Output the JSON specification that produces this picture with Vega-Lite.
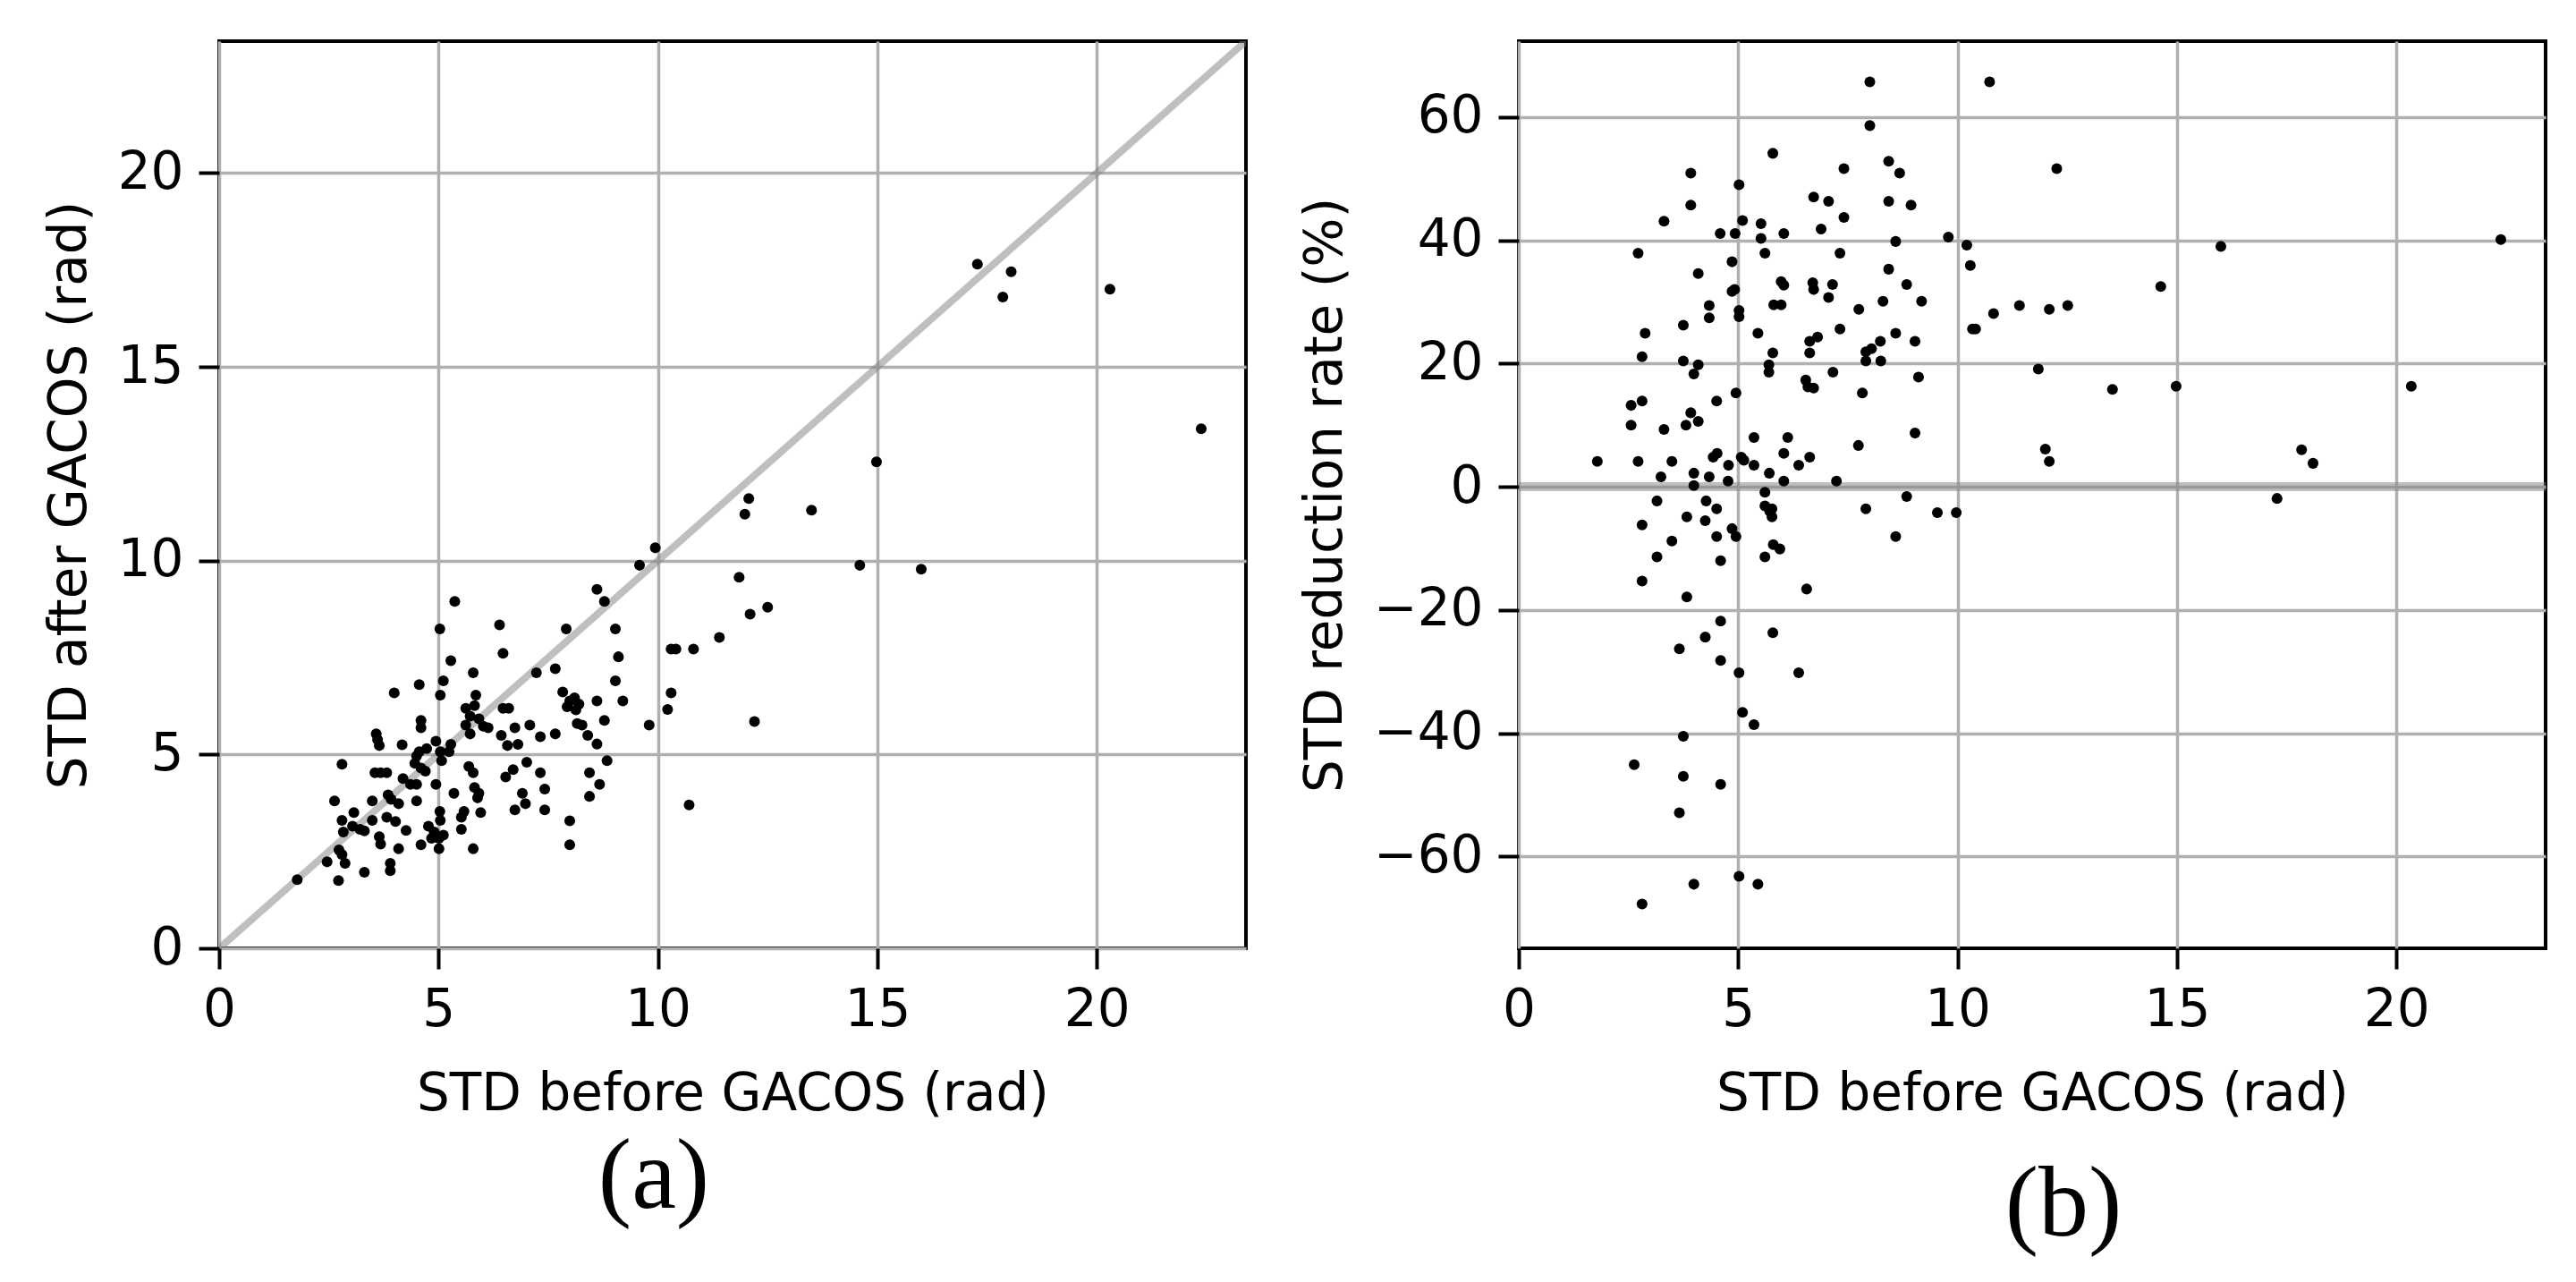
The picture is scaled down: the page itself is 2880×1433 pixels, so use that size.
{
  "$schema": "https://vega.github.io/schema/vega-lite/v6.json",
  "background": "white",
  "padding": {"left": 47, "top": 44, "right": 10, "bottom": 10},
  "bounds": "flush",
  "spacing": 305,
  "config": {
    "view": {"stroke": "black", "strokeWidth": 4},
    "axis": {
      "labelFont": "DejaVu Sans", "labelFontSize": 58, "labelColor": "black",
      "titleFont": "DejaVu Sans", "titleFontSize": 58, "titleFontWeight": "normal", "titleColor": "black",
      "tickColor": "black", "tickWidth": 4, "tickSize": 23,
      "domain": false,
      "gridColor": "#b0b0b0", "gridWidth": 3.5, "gridOpacity": 1,
      "labelPadding": 17, "labelFlush": false, "labelOverlap": false
    },
    "axisX": {"titlePadding": 36},
    "axisY": {"titlePadding": 24}
  },
  "datasets": {
    "diag": [{"d": 0}, {"d": 23.4}],
    "zero": [{"z": 0}],
    "a": [
      {"before": 1.78, "after": 1.77}, {"before": 2.72, "after": 1.75}, {"before": 2.46, "after": 2.23}, {"before": 2.73, "after": 2.54},
      {"before": 2.87, "after": 2.19}, {"before": 2.80, "after": 2.42}, {"before": 3.31, "after": 1.96}, {"before": 3.90, "after": 2.19},
      {"before": 3.90, "after": 2.00}, {"before": 2.63, "after": 3.80}, {"before": 2.80, "after": 4.75}, {"before": 2.80, "after": 3.30},
      {"before": 2.83, "after": 3.00}, {"before": 3.07, "after": 3.50}, {"before": 3.04, "after": 3.15}, {"before": 3.31, "after": 3.03},
      {"before": 3.49, "after": 3.80}, {"before": 3.49, "after": 3.30}, {"before": 3.65, "after": 2.88}, {"before": 3.68, "after": 2.69},
      {"before": 4.09, "after": 2.57}, {"before": 3.55, "after": 4.53}, {"before": 3.82, "after": 4.53}, {"before": 3.58, "after": 5.53},
      {"before": 3.65, "after": 5.23}, {"before": 3.99, "after": 6.59}, {"before": 4.17, "after": 5.25}, {"before": 3.85, "after": 3.96},
      {"before": 3.92, "after": 3.84}, {"before": 4.09, "after": 3.73}, {"before": 3.82, "after": 3.38}, {"before": 4.02, "after": 3.27},
      {"before": 4.26, "after": 3.04}, {"before": 4.19, "after": 4.38}, {"before": 4.36, "after": 4.23}, {"before": 4.50, "after": 3.80},
      {"before": 4.50, "after": 4.96}, {"before": 4.60, "after": 4.65}, {"before": 4.56, "after": 6.80}, {"before": 4.60, "after": 5.88},
      {"before": 4.60, "after": 5.69}, {"before": 4.56, "after": 5.07}, {"before": 4.70, "after": 4.57}, {"before": 4.60, "after": 2.67},
      {"before": 4.77, "after": 3.15}, {"before": 4.90, "after": 3.00}, {"before": 4.94, "after": 4.23}, {"before": 4.94, "after": 5.34},
      {"before": 5.04, "after": 6.53}, {"before": 5.03, "after": 8.24}, {"before": 5.11, "after": 6.90}, {"before": 5.28, "after": 7.42},
      {"before": 5.37, "after": 8.95}, {"before": 5.04, "after": 5.07}, {"before": 5.07, "after": 4.84}, {"before": 5.24, "after": 5.07},
      {"before": 5.03, "after": 3.53}, {"before": 5.01, "after": 2.84}, {"before": 5.01, "after": 2.57}, {"before": 5.11, "after": 2.92},
      {"before": 5.35, "after": 4.00}, {"before": 5.52, "after": 3.38}, {"before": 5.58, "after": 3.53}, {"before": 5.52, "after": 3.07},
      {"before": 5.79, "after": 2.57}, {"before": 5.96, "after": 3.50}, {"before": 5.69, "after": 4.69}, {"before": 5.79, "after": 4.53},
      {"before": 5.82, "after": 4.15}, {"before": 5.92, "after": 4.00}, {"before": 5.79, "after": 7.11}, {"before": 5.62, "after": 6.19},
      {"before": 5.85, "after": 6.53}, {"before": 5.72, "after": 5.99}, {"before": 5.62, "after": 5.76}, {"before": 5.72, "after": 5.53},
      {"before": 5.92, "after": 5.92}, {"before": 6.13, "after": 5.69}, {"before": 6.47, "after": 7.61}, {"before": 6.39, "after": 8.34},
      {"before": 6.47, "after": 6.19}, {"before": 6.60, "after": 6.19}, {"before": 6.43, "after": 5.49}, {"before": 6.57, "after": 5.23},
      {"before": 6.74, "after": 5.69}, {"before": 6.81, "after": 5.26}, {"before": 6.53, "after": 4.42}, {"before": 6.70, "after": 4.61},
      {"before": 7.01, "after": 4.80}, {"before": 7.32, "after": 4.53}, {"before": 7.08, "after": 5.76}, {"before": 7.32, "after": 5.46},
      {"before": 7.66, "after": 5.53}, {"before": 6.91, "after": 4.00}, {"before": 6.74, "after": 3.57}, {"before": 6.98, "after": 3.73},
      {"before": 7.42, "after": 4.11}, {"before": 7.42, "after": 3.57}, {"before": 7.99, "after": 3.29}, {"before": 7.99, "after": 2.67},
      {"before": 7.23, "after": 7.11}, {"before": 7.66, "after": 7.21}, {"before": 7.91, "after": 8.24}, {"before": 8.61, "after": 9.26},
      {"before": 8.78, "after": 8.95}, {"before": 9.03, "after": 8.24}, {"before": 9.10, "after": 7.52}, {"before": 9.03, "after": 6.90},
      {"before": 9.20, "after": 6.38}, {"before": 7.83, "after": 6.61}, {"before": 7.93, "after": 6.23}, {"before": 8.10, "after": 6.46},
      {"before": 8.20, "after": 6.30}, {"before": 8.13, "after": 6.15}, {"before": 8.16, "after": 5.80}, {"before": 8.61, "after": 6.38},
      {"before": 8.78, "after": 5.88}, {"before": 8.40, "after": 5.49}, {"before": 8.61, "after": 5.27}, {"before": 8.84, "after": 4.84},
      {"before": 8.44, "after": 4.53}, {"before": 8.67, "after": 4.23}, {"before": 8.44, "after": 3.92}, {"before": 9.80, "after": 5.76},
      {"before": 10.30, "after": 7.72}, {"before": 10.41, "after": 7.72}, {"before": 10.81, "after": 7.72}, {"before": 10.30, "after": 6.59},
      {"before": 10.22, "after": 6.16}, {"before": 10.71, "after": 3.70}, {"before": 11.40, "after": 8.02},
      {"before": 3.61, "after": 5.38}, {"before": 4.73, "after": 5.15}, {"before": 4.46, "after": 4.77}, {"before": 5.28, "after": 5.26},
      {"before": 3.68, "after": 4.53}, {"before": 4.50, "after": 4.23}, {"before": 3.21, "after": 3.07}, {"before": 5.04, "after": 3.30},
      {"before": 4.84, "after": 2.84}, {"before": 5.89, "after": 3.88}, {"before": 6.02, "after": 5.73}, {"before": 5.82, "after": 6.26},
      {"before": 7.99, "after": 6.38}, {"before": 8.27, "after": 5.76},
      {"before": 22.38, "after": 13.4}, {"before": 20.3, "after": 17.0}, {"before": 17.28, "after": 17.65}, {"before": 17.86, "after": 16.8},
      {"before": 18.05, "after": 17.45}, {"before": 16.0, "after": 9.78}, {"before": 14.6, "after": 9.88}, {"before": 14.98, "after": 12.55},
      {"before": 13.5, "after": 11.3}, {"before": 12.5, "after": 8.8}, {"before": 12.2, "after": 5.85}, {"before": 12.1, "after": 8.62},
      {"before": 11.85, "after": 9.57}, {"before": 11.98, "after": 11.2}, {"before": 12.07, "after": 11.6}, {"before": 9.94, "after": 10.33},
      {"before": 9.58, "after": 9.88}
    ],
    "b": [
      {"before": 8.0, "rate": 65.7}, {"before": 10.73, "rate": 65.7}, {"before": 8.0, "rate": 58.6}, {"before": 5.79, "rate": 54.1},
      {"before": 3.92, "rate": 50.9}, {"before": 7.41, "rate": 51.6}, {"before": 8.43, "rate": 52.8}, {"before": 8.68, "rate": 50.9},
      {"before": 12.26, "rate": 51.6}, {"before": 5.02, "rate": 49.0}, {"before": 3.92, "rate": 45.7}, {"before": 6.72, "rate": 47.0},
      {"before": 7.06, "rate": 46.3}, {"before": 8.43, "rate": 46.3}, {"before": 8.94, "rate": 45.7}, {"before": 3.31, "rate": 43.1},
      {"before": 5.1, "rate": 43.2}, {"before": 5.52, "rate": 42.7}, {"before": 5.52, "rate": 40.3}, {"before": 4.59, "rate": 41.1},
      {"before": 4.93, "rate": 41.1}, {"before": 6.04, "rate": 41.1}, {"before": 6.89, "rate": 41.8}, {"before": 7.41, "rate": 43.7},
      {"before": 8.59, "rate": 39.8}, {"before": 9.79, "rate": 40.5}, {"before": 10.21, "rate": 39.2}, {"before": 10.29, "rate": 35.9},
      {"before": 2.72, "rate": 37.9}, {"before": 5.61, "rate": 37.9}, {"before": 7.32, "rate": 37.9}, {"before": 4.86, "rate": 36.5},
      {"before": 4.09, "rate": 34.6}, {"before": 8.43, "rate": 35.3}, {"before": 5.98, "rate": 33.3}, {"before": 6.04, "rate": 32.7},
      {"before": 6.7, "rate": 33.1}, {"before": 6.72, "rate": 32.0}, {"before": 7.15, "rate": 32.8}, {"before": 7.06, "rate": 30.7},
      {"before": 4.86, "rate": 31.7}, {"before": 4.92, "rate": 32.0}, {"before": 8.84, "rate": 32.8}, {"before": 5.81, "rate": 29.5},
      {"before": 5.98, "rate": 29.5}, {"before": 8.3, "rate": 30.1}, {"before": 9.18, "rate": 30.1}, {"before": 4.34, "rate": 29.4},
      {"before": 4.34, "rate": 27.4}, {"before": 5.02, "rate": 28.6}, {"before": 5.02, "rate": 27.6}, {"before": 7.75, "rate": 28.8},
      {"before": 10.82, "rate": 28.1}, {"before": 11.41, "rate": 29.4}, {"before": 12.09, "rate": 28.8}, {"before": 12.51, "rate": 29.4},
      {"before": 3.75, "rate": 26.2}, {"before": 2.88, "rate": 24.9}, {"before": 5.45, "rate": 24.9}, {"before": 7.32, "rate": 25.6},
      {"before": 10.34, "rate": 25.6}, {"before": 10.41, "rate": 25.6}, {"before": 8.59, "rate": 24.9}, {"before": 9.03, "rate": 23.6},
      {"before": 6.81, "rate": 24.3}, {"before": 6.63, "rate": 23.6}, {"before": 8.24, "rate": 23.6}, {"before": 5.79, "rate": 21.7},
      {"before": 6.63, "rate": 21.7}, {"before": 7.91, "rate": 21.9}, {"before": 8.04, "rate": 22.4}, {"before": 7.91, "rate": 20.4},
      {"before": 8.25, "rate": 20.4}, {"before": 2.81, "rate": 21.1}, {"before": 3.75, "rate": 20.4}, {"before": 4.09, "rate": 19.8},
      {"before": 3.99, "rate": 18.3}, {"before": 5.7, "rate": 19.8}, {"before": 5.7, "rate": 18.6}, {"before": 7.16, "rate": 18.6},
      {"before": 9.11, "rate": 17.8}, {"before": 11.84, "rate": 19.1}, {"before": 6.54, "rate": 17.3}, {"before": 6.59, "rate": 16.2},
      {"before": 6.72, "rate": 16.0}, {"before": 7.83, "rate": 15.2}, {"before": 4.95, "rate": 15.2}, {"before": 13.53, "rate": 15.8},
      {"before": 2.56, "rate": 13.2}, {"before": 2.81, "rate": 13.9}, {"before": 4.51, "rate": 13.9}, {"before": 2.56, "rate": 10.0},
      {"before": 3.31, "rate": 9.3}, {"before": 3.81, "rate": 10.0}, {"before": 4.09, "rate": 10.6}, {"before": 3.92, "rate": 12.0},
      {"before": 5.36, "rate": 8.0}, {"before": 6.13, "rate": 8.0}, {"before": 9.03, "rate": 8.7}, {"before": 7.74, "rate": 6.7},
      {"before": 6.04, "rate": 5.4}, {"before": 6.63, "rate": 4.8}, {"before": 12.0, "rate": 6.1}, {"before": 12.09, "rate": 4.1},
      {"before": 1.79, "rate": 4.1}, {"before": 2.72, "rate": 4.1}, {"before": 3.49, "rate": 4.1}, {"before": 4.43, "rate": 4.8},
      {"before": 4.52, "rate": 5.4}, {"before": 4.78, "rate": 3.5}, {"before": 5.07, "rate": 4.8}, {"before": 5.13, "rate": 4.3},
      {"before": 5.36, "rate": 3.5}, {"before": 5.71, "rate": 2.2}, {"before": 6.38, "rate": 3.5}, {"before": 3.24, "rate": 1.6},
      {"before": 3.99, "rate": 2.2}, {"before": 3.99, "rate": 0.2}, {"before": 4.34, "rate": 1.6}, {"before": 4.77, "rate": 0.9},
      {"before": 6.04, "rate": 0.9}, {"before": 7.24, "rate": 0.9},
      {"before": 3.15, "rate": -2.3}, {"before": 4.27, "rate": -2.3}, {"before": 4.51, "rate": -3.6}, {"before": 5.61, "rate": -0.9},
      {"before": 5.61, "rate": -3.1}, {"before": 5.77, "rate": -3.6}, {"before": 5.77, "rate": -4.9}, {"before": 5.72, "rate": -4.0},
      {"before": 8.84, "rate": -1.6}, {"before": 7.91, "rate": -3.6}, {"before": 9.54, "rate": -4.2}, {"before": 9.97, "rate": -4.2},
      {"before": 2.81, "rate": -6.2}, {"before": 3.83, "rate": -4.9}, {"before": 4.25, "rate": -5.5}, {"before": 4.86, "rate": -6.8},
      {"before": 4.95, "rate": -8.1}, {"before": 4.51, "rate": -8.1}, {"before": 3.49, "rate": -8.8}, {"before": 5.8, "rate": -9.4},
      {"before": 5.95, "rate": -10.1}, {"before": 5.61, "rate": -11.4}, {"before": 3.15, "rate": -11.4}, {"before": 4.6, "rate": -12.0},
      {"before": 8.59, "rate": -8.1}, {"before": 2.81, "rate": -15.3}, {"before": 3.83, "rate": -17.9}, {"before": 6.56, "rate": -16.6},
      {"before": 4.6, "rate": -21.8}, {"before": 4.25, "rate": -24.4}, {"before": 5.79, "rate": -23.7}, {"before": 3.66, "rate": -26.3},
      {"before": 4.6, "rate": -28.2}, {"before": 5.02, "rate": -30.2}, {"before": 6.38, "rate": -30.2}, {"before": 5.1, "rate": -36.6},
      {"before": 5.36, "rate": -38.6}, {"before": 3.75, "rate": -40.5}, {"before": 2.63, "rate": -45.1}, {"before": 3.75, "rate": -47.0},
      {"before": 4.6, "rate": -48.3}, {"before": 3.66, "rate": -52.9}, {"before": 5.02, "rate": -63.2}, {"before": 3.99, "rate": -64.5},
      {"before": 5.45, "rate": -64.5}, {"before": 2.81, "rate": -67.7},
      {"before": 22.38, "rate": 40.1}, {"before": 20.34, "rate": 16.3}, {"before": 17.28, "rate": -1.9}, {"before": 17.84, "rate": 6.0},
      {"before": 18.1, "rate": 3.8}, {"before": 16.0, "rate": 39.0}, {"before": 14.63, "rate": 32.5}, {"before": 14.98, "rate": 16.3}
    ]
  },
  "hconcat": [
    {
      "width": 1148,
      "height": 1014,
      "title": {"text": "(a)", "orient": "bottom", "anchor": "middle", "frame": "group", "font": "Liberation Serif", "fontSize": 112, "fontWeight": "normal", "color": "black", "dx": -88, "offset": 10},
      "layer": [
        {
          "data": {"name": "diag"},
          "mark": {"type": "line", "color": "#808080", "opacity": 0.5, "strokeWidth": 8, "clip": true},
          "encoding": {
            "x": {"field": "d", "type": "quantitative", "scale": {"domain": [0, 23.4], "nice": false, "zero": false}, "axis": {"values": [0, 5, 10, 15, 20], "format": "d", "title": "STD before GACOS (rad)"}},
            "y": {"field": "d", "type": "quantitative", "scale": {"domain": [0, 23.4], "nice": false, "zero": false}, "axis": {"values": [0, 5, 10, 15, 20], "format": "d", "title": "STD after GACOS (rad)"}}
          }
        },
        {
          "data": {"name": "a"},
          "mark": {"type": "circle", "size": 145, "color": "black", "opacity": 1},
          "encoding": {
            "x": {"field": "before", "type": "quantitative", "axis": {"values": [0, 5, 10, 15, 20], "format": "d", "title": "STD before GACOS (rad)"}},
            "y": {"field": "after", "type": "quantitative", "axis": {"values": [0, 5, 10, 15, 20], "format": "d", "title": "STD after GACOS (rad)"}}
          }
        }
      ]
    },
    {
      "width": 1148,
      "height": 1014,
      "title": {"text": "(b)", "orient": "bottom", "anchor": "middle", "frame": "group", "font": "Liberation Serif", "fontSize": 112, "fontWeight": "normal", "color": "black", "dx": 35, "offset": 41},
      "layer": [
        {
          "data": {"name": "zero"},
          "mark": {"type": "rule", "color": "#808080", "opacity": 0.5, "strokeWidth": 10},
          "encoding": {
            "y": {"field": "z", "type": "quantitative", "scale": {"domain": [-74.9, 72.3], "nice": false, "zero": false}, "axis": {"values": [-60, -40, -20, 0, 20, 40, 60], "format": "d", "title": "STD reduction rate (%)"}}
          }
        },
        {
          "data": {"name": "b"},
          "mark": {"type": "circle", "size": 145, "color": "black", "opacity": 1},
          "encoding": {
            "x": {"field": "before", "type": "quantitative", "scale": {"domain": [0, 23.4], "nice": false, "zero": false}, "axis": {"values": [0, 5, 10, 15, 20], "format": "d", "title": "STD before GACOS (rad)"}},
            "y": {"field": "rate", "type": "quantitative", "axis": {"values": [-60, -40, -20, 0, 20, 40, 60], "format": "d", "title": "STD reduction rate (%)"}}
          }
        }
      ]
    }
  ]
}
